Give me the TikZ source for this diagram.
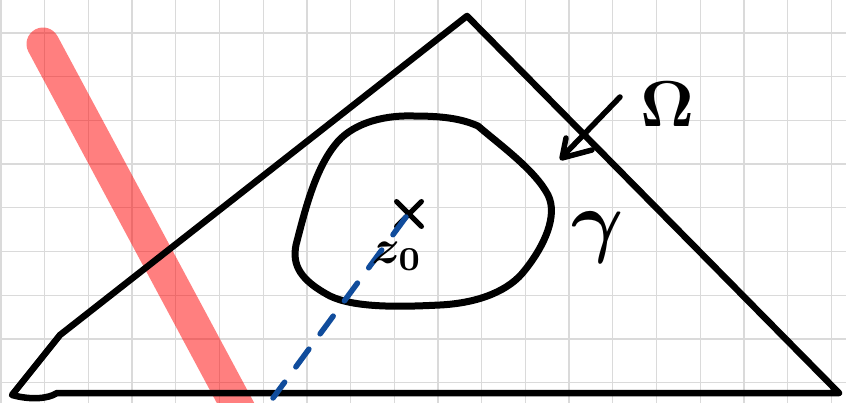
\documentclass[tikz,border=0pt]{standalone}
\usetikzlibrary{shapes.misc}
\definecolor{gridc}{RGB}{218,218,218}
\definecolor{penblue}{RGB}{16,76,156}
\tikzset{
  ink/.style={line width=6.5pt, line cap=round, line join=round, black},
  lbl/.style={inner sep=0pt, black},
}
\begin{document}
\begin{tikzpicture}[x=1pt,y=-1pt]
\useasboundingbox (0,0) rectangle (846,403);
\fill[white] (0,0) rectangle (846,403);
% grid
\foreach \i in {0,...,19} {
  \draw[gridc, line width=1.3pt] ({1+43.7*\i},0) -- ({1+43.7*\i},403);
}
\foreach \j in {0,...,8} {
  \draw[gridc, line width=1.3pt] (0,{33+43.7*\j}) -- (846,{33+43.7*\j});
}
% red highlighter stroke
\draw[red, opacity=0.5, line width=33pt, line cap=round] (43,44) -- (250,430);
% triangle Omega
\draw[ink] (467,16) -- (60,335) -- (12,395) .. controls (30,400) and (48,399) .. (57,393) -- (839,393) -- cycle;
% blob gamma
\draw[ink, line width=7pt] (413,116) .. controls (380,115) and (350,125) .. (335,145)
  .. controls (315,170) and (305,210) .. (296,245)
  .. controls (292,265) and (300,280) .. (330,296)
  .. controls (355,308) and (400,307) .. (440,305)
  .. controls (480,303) and (510,290) .. (525,270)
  .. controls (545,245) and (558,215) .. (548,195)
  .. controls (535,170) and (500,145) .. (478,126)
  .. controls (460,118) and (440,116) .. (413,116) -- cycle;
% point z0
\node[cross out, draw, line width=5pt, minimum size=20pt, inner sep=0pt, line cap=round] (zz) at (409,214) {};
\coordinate (bot) at (273,398);
\draw[penblue, line width=5.5pt, line cap=round, dash pattern=on 22pt off 19pt] (406,217) -- (bot);
\node[lbl] (zlab) at (397,256) {\scalebox{4.8}{\boldmath$z_0$}};
% gamma label
\node[lbl] (glab) at (598,238) {\scalebox{8}{\boldmath$\gamma$}};
% Omega label and arrow
\node[lbl] (olab) at (667,104) {\scalebox{6.5}{\boldmath$\Omega$}};
\coordinate (atail) at (620,97);
\coordinate (atip) at (564,155);
\draw[ink, line width=5.5pt] (atail) -- (atip);
\draw[ink, line width=5.5pt] (566,138) -- (562,158) -- (592,150);
\end{tikzpicture}
\end{document}
